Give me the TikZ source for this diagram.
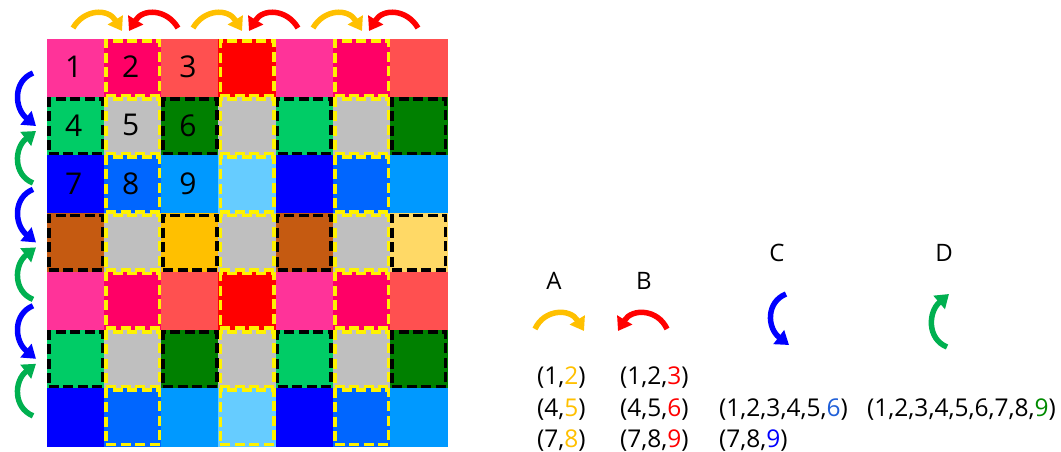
\documentclass[tikz,border=0pt]{standalone}
\usepackage{fontspec}
\setmainfont{Open Sans}
\usetikzlibrary{arrows.meta}
% cell fills
\definecolor{cPink}{HTML}{FF3399}
\definecolor{cRose}{HTML}{FF0066}
\definecolor{cSalmon}{HTML}{FF5050}
\definecolor{cRed}{HTML}{FF0000}
\definecolor{cMint}{HTML}{00CC66}
\definecolor{cGray}{HTML}{BFBFBF}
\definecolor{cDkGreen}{HTML}{008000}
\definecolor{cBlue}{HTML}{0000FF}
\definecolor{cMidBlue}{HTML}{0066FF}
\definecolor{cSky}{HTML}{0099FF}
\definecolor{cLtSky}{HTML}{66CCFF}
\definecolor{cBrown}{HTML}{C55A11}
\definecolor{cGold}{HTML}{FFC000}
\definecolor{cSand}{HTML}{FFD966}
% arrow colours
\definecolor{arOrange}{HTML}{FFC000}
\definecolor{arRed}{HTML}{FF0000}
\definecolor{arBlue}{HTML}{0000FF}
\definecolor{arGreen}{HTML}{00B050}
\definecolor{txBlue}{HTML}{1F5FD8}
\definecolor{txGreen}{HTML}{008A00}
\begin{document}
\begin{tikzpicture}[x=1pt,y=-1pt,
  cell/.style={rectangle, inner sep=0pt, minimum width=57.6pt, minimum height=58.6pt, draw=none},
  digit/.style={font=\fontsize{30}{33}\selectfont, text=black, inner sep=0pt},
  ydash/.style={rectangle, draw=yellow, line width=3.6pt, dash pattern=on 10pt off 4.5pt,
    inner sep=0pt, minimum width=53.6pt, minimum height=54.6pt},
  kdash/.style={rectangle, draw=black, line width=3.6pt, dash pattern=on 10pt off 4.5pt,
    inner sep=0pt, minimum width=53.6pt, minimum height=54.6pt},
  curved/.style={line width=5.5pt, -{Triangle[width=17pt,length=13pt]}},
  lbl/.style={font=\fontsize{24}{28}\selectfont, inner sep=0pt},
  tup/.style={font=\fontsize{24.5}{28}\selectfont, inner sep=0pt, anchor=base west},
]
\useasboundingbox (0,0) rectangle (1061,452);

% colour grid, rows 5-7 repeat rows 1-3
\foreach \r/\cols in {
  1/{cPink,cRose,cSalmon,cRed,cPink,cRose,cSalmon},
  2/{cMint,cGray,cDkGreen,cGray,cMint,cGray,cDkGreen},
  3/{cBlue,cMidBlue,cSky,cLtSky,cBlue,cMidBlue,cSky},
  4/{cBrown,cGray,cGold,cGray,cBrown,cGray,cSand},
  5/{cPink,cRose,cSalmon,cRed,cPink,cRose,cSalmon},
  6/{cMint,cGray,cDkGreen,cGray,cMint,cGray,cDkGreen},
  7/{cBlue,cMidBlue,cSky,cLtSky,cBlue,cMidBlue,cSky}}{
  \foreach \col [count=\c] in \cols {
    \node[cell, fill=\col] (cell-\r-\c) at ({47+(\c-0.5)*57.2},{39+(\r-0.5)*58.2}) {};
  }
}

% dashed outlines: black on rows 2,4,6; yellow on columns 2,4,6
\foreach \r in {2,4,6}{
  \foreach \c in {1,3,5,7}{
    \node[kdash] (kb-\r-\c) at (cell-\r-\c) {};
  }
}
\foreach \c in {2,4,6}{
  \foreach \r in {1,...,7}{
    \node[ydash] (yb-\r-\c) at (cell-\r-\c) {};
  }
}

% cell numbers
\foreach \n/\r/\c in {1/1/1,2/1/2,3/1/3,4/2/1,5/2/2,6/2/3,7/3/1,8/3/2,9/3/3}{
  \node[digit] (num-\n) at ([xshift=-2pt,yshift=1pt]cell-\r-\c.center) {\n};
}

% swap arrows above the grid
\foreach \xa in {0,120,240}{
  \draw[curved, arOrange] ({73+\xa},28) .. controls ({84+\xa},9) and ({108+\xa},8) .. ({122+\xa},31);
  \draw[curved, arRed] ({178+\xa},28) .. controls ({167+\xa},9) and ({143+\xa},8) .. ({129+\xa},31);
}

% swap arrows left of the grid
\foreach \ya in {0,116.4,232.8}{
  \draw[curved, arBlue] (33,{73+\ya}) .. controls (13,{81+\ya}) and (14,{108+\ya}) .. (36,{126+\ya});
  \draw[curved, arGreen] (33,{183+\ya}) .. controls (13,{175+\ya}) and (14,{148+\ya}) .. (36,{131+\ya});
}

% legend
\node[lbl] (labA) at (554,281) {A};
\node[lbl] (labB) at (644,281) {B};
\node[lbl] (labC) at (777,253) {C};
\node[lbl] (labD) at (944,253) {D};

\draw[curved, arOrange] (535,329) .. controls (544,309) and (570,308) .. (584,331);
\draw[curved, arRed] (667,329) .. controls (658,309) and (632,308) .. (618,331);
\draw[curved, arBlue] (786,294) .. controls (766,302) and (767,328) .. (789,345);
\draw[curved, arGreen] (947,347) .. controls (927,339) and (928,312) .. (949,294);

\node[tup] (a1) at (537,384) {(1,\textcolor{arOrange}{2})};
\node[tup] (a2) at (537,416) {(4,\textcolor{arOrange}{5})};
\node[tup] (a3) at (537,447) {(7,\textcolor{arOrange}{8})};
\node[tup] (b1) at (620,384) {(1,2,\textcolor{arRed}{3})};
\node[tup] (b2) at (620,416) {(4,5,\textcolor{arRed}{6})};
\node[tup] (b3) at (620,447) {(7,8,\textcolor{arRed}{9})};
\node[tup] (c2) at (719,416) {(1,2,3,4,5,\textcolor{txBlue}{6})};
\node[tup] (c3) at (719,447) {(7,8,\textcolor{arBlue}{9})};
\node[tup] (d2) at (867,416) {(1,2,3,4,5,6,7,8,\textcolor{txGreen}{9})};
\end{tikzpicture}
\end{document}
